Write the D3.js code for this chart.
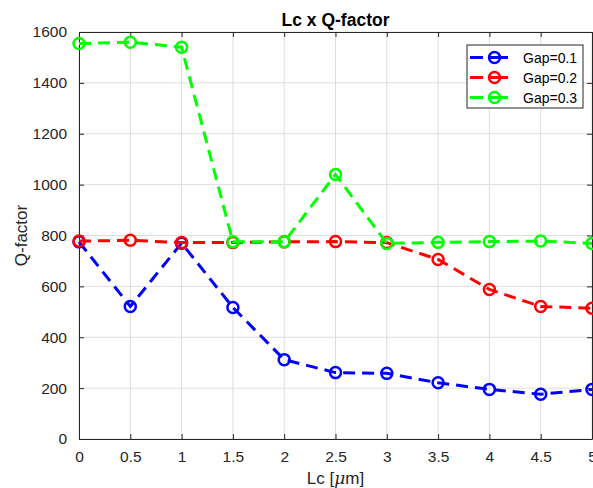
<!DOCTYPE html>
<html>
<head>
<meta charset="utf-8">
<script src="https://cdn.jsdelivr.net/npm/d3@7"></script>
<style>
  html, body { margin: 0; padding: 0; background: #fff; }
  svg { display: block; font-family: "Liberation Sans", Arial, Helvetica, sans-serif; }
</style>
</head>
<body>
<svg id="chart" width="593" height="488"></svg>
<script>
// Cavity length Lc (µm) against Q-factor for three gap widths
const lc = [0, 0.5, 1, 1.5, 2, 2.5, 3, 3.5, 4, 4.5, 5];
const gap01 = [775, 521, 770, 517, 312, 261, 258, 221, 195, 176, 195];
const gap02 = [778, 781, 772, 772, 775, 776, 772, 706, 588, 521, 514];
const gap03 = [1555, 1560, 1540, 775, 775, 1040, 769, 773, 776, 778, 769];
const seriesNames = ["Gap=0.1", "Gap=0.2", "Gap=0.3"];
const seriesColors = ["#0000ff", "#ff0000", "#00ff00"];
const xTicks = [0, 0.5, 1, 1.5, 2, 2.5, 3, 3.5, 4, 4.5, 5];
const xTickLabels = ["0", "0.5", "1", "1.5", "2", "2.5", "3", "3.5", "4", "4.5", "5"];
const yTicks = [0, 200, 400, 600, 800, 1000, 1200, 1400, 1600];

const series = [gap01, gap02, gap03].map((vals, i) => ({
  name: seriesNames[i], color: seriesColors[i],
  points: lc.map((x, j) => ({ x, y: vals[j] }))
}));

const svg = d3.select("#chart");
const L = 79, R = 592, T = 32, B = 439;
const axisColor = "#262626";

const x = d3.scaleLinear().domain([0, 5]).range([L, R]);
const y = d3.scaleLinear().domain([0, 1600]).range([B, T]);

// grid
const grid = svg.append("g").attr("stroke", "#dedede").attr("stroke-width", 1);
xTicks.forEach(t => grid.append("line")
  .attr("x1", x(t)).attr("x2", x(t)).attr("y1", T).attr("y2", B));
yTicks.forEach(t => grid.append("line")
  .attr("x1", L).attr("x2", R).attr("y1", y(t)).attr("y2", y(t)));

// axes (inward ticks on all four sides)
const fmtX = d => xTickLabels[xTicks.indexOf(d)];
svg.append("g").attr("transform", `translate(0,${B})`)
  .call(d3.axisBottom(x).tickValues(xTicks).tickFormat(fmtX).tickSizeInner(-5).tickSizeOuter(0).tickPadding(12));
svg.append("g").attr("transform", `translate(0,${T})`)
  .call(d3.axisTop(x).tickValues(xTicks).tickFormat("").tickSizeInner(-5).tickSizeOuter(0));
svg.append("g").attr("transform", `translate(${L},0)`)
  .call(d3.axisLeft(y).tickValues(yTicks).tickFormat(d3.format("d")).tickSizeInner(-5).tickSizeOuter(0).tickPadding(12));
svg.append("g").attr("transform", `translate(${R},0)`)
  .call(d3.axisRight(y).tickValues(yTicks).tickFormat("").tickSizeInner(-5).tickSizeOuter(0));

svg.selectAll(".domain").attr("stroke", axisColor).attr("stroke-width", 1);
svg.selectAll(".tick line").attr("stroke", axisColor).attr("stroke-width", 1);
svg.selectAll(".tick text").attr("fill", axisColor).style("font-size", "15.5px")
  .style("font-family", "'Liberation Sans', Arial, sans-serif");

// series lines and circle markers
const line = d3.line().x(d => x(d.x)).y(d => y(d.y));
const plot = svg.append("g");
series.forEach(s => {
  const g = plot.append("g");
  g.append("path").datum(s.points).attr("d", line)
    .attr("fill", "none").attr("stroke", s.color).attr("stroke-width", 3)
    .attr("stroke-dasharray", "12,7");
  g.selectAll("circle").data(s.points).enter().append("circle")
    .attr("cx", d => x(d.x)).attr("cy", d => y(d.y)).attr("r", 5.5)
    .attr("fill", "none").attr("stroke", s.color).attr("stroke-width", 2.5);
});

// title and axis labels
svg.append("text").attr("x", (L + R) / 2).attr("y", 26).attr("text-anchor", "middle")
  .style("font-size", "17.5px").style("font-weight", "bold").attr("fill", "#000")
  .text("Lc x Q-factor");

const xl = svg.append("text").attr("x", (L + R) / 2).attr("y", 484).attr("text-anchor", "middle")
  .style("font-size", "17px").attr("fill", axisColor);
xl.append("tspan").text("Lc [");
xl.append("tspan").style("font-style", "italic").style("font-family", "'DejaVu Serif', serif").text("μ");
xl.append("tspan").text("m]");

svg.append("text").attr("transform", `translate(27,${(T + B) / 2}) rotate(-90)`)
  .attr("text-anchor", "middle").style("font-size", "17px").attr("fill", axisColor)
  .text("Q-factor");

// legend
const lg = svg.append("g").attr("transform", "translate(467,45)");
lg.append("rect").attr("x", 0).attr("y", 0).attr("width", 116).attr("height", 63)
  .attr("fill", "#fff").attr("stroke", axisColor).attr("stroke-width", 1);
series.forEach((s, i) => {
  const cy = 12.5 + i * 20;
  lg.append("line").attr("x1", 3).attr("x2", 52).attr("y1", cy).attr("y2", cy)
    .attr("stroke", s.color).attr("stroke-width", 3).attr("stroke-dasharray", "13,6,19,12,2");
  lg.append("circle").attr("cx", 27.5).attr("cy", cy).attr("r", 5.5)
    .attr("fill", "none").attr("stroke", s.color).attr("stroke-width", 2.5);
  lg.append("text").attr("x", 56).attr("y", cy + 5).style("font-size", "14px")
    .attr("fill", "#000").text(s.name);
});
</script>
</body>
</html>
